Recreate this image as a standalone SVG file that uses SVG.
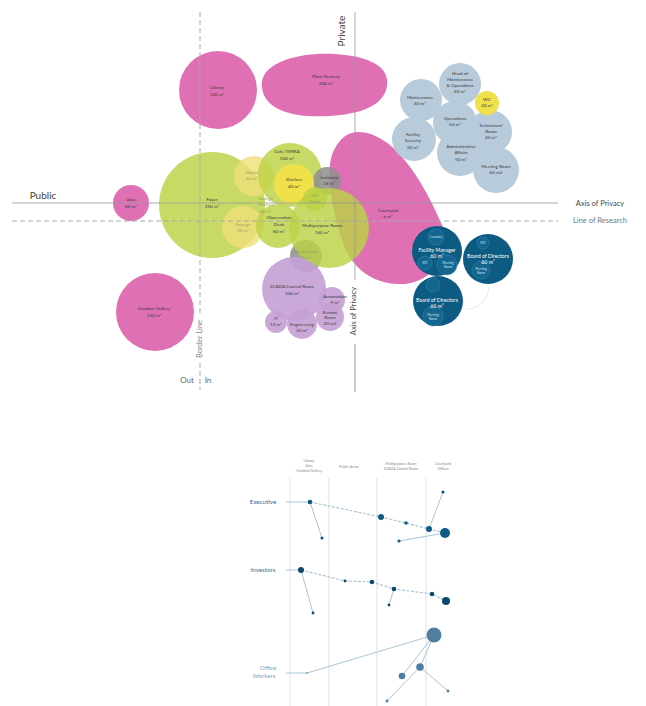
<svg xmlns="http://www.w3.org/2000/svg" width="646" height="706" viewBox="0 0 646 706">
<style>
text{font-family:Lato,"Liberation Sans",sans-serif;text-anchor:middle}
.t{font-size:4.6px;fill:#3a3a3a}
.tf{font-size:4.6px;fill:#8a8f5a;opacity:.75}
.tw{font-size:5.2px;fill:#ffffff}
.tws{font-size:3.2px;fill:#cfe3ee}
.pink{fill:#df70b4}
.green{fill:#bcd244;fill-opacity:.82}
.yellow{fill:#f0e04a}
.yfade{fill:#efe07a;fill-opacity:.8}
.gray{fill:#8e8e8e;fill-opacity:.85}
.purple{fill:#c4a0d5;fill-opacity:.9}
.lblue{fill:#b7cbda}
.dblue{fill:#0d5b83}
.inner{fill:#12668f;stroke:#3b88ad;stroke-width:.5}
.axis{stroke:#9a9a9a;stroke-width:1;fill:none}
.dash{stroke:#a8a8a8;stroke-width:1;stroke-dasharray:5 3;fill:none}
.col{stroke:#e6e6e6;stroke-width:1.2}
.lk{stroke:#a9c6d6;stroke-width:1;fill:none}
.lkd{stroke:#a9c6d6;stroke-width:1.2;stroke-dasharray:3 1.5;fill:none}
.hd{font-size:3.6px;fill:#8a8a8a}
.ex{fill:#0e5a86}
.iv{fill:#0b4a6e}
.ow{fill:#4f7ea1}
</style>
<rect width="646" height="706" fill="#ffffff"/>

<!-- Top chart nodes -->
<g id="courtyard"><path class="pink" d="M358,132 C395,132 425,185 442,225 C452,256 430,286 398,284 C370,283 350,266 342,240 C332,210 324,170 334,150 C340,138 348,132 358,132 Z"/><text class="t" x="388" y="212">Courtyard</text><text class="t" x="388" y="218">x m²</text></g>
<g id="library"><circle class="pink" cx="218" cy="90" r="39"/><text class="t" x="217" y="89">Library</text><text class="t" x="217" y="96">100 m²</text></g>
<g id="plant-nursery"><path class="pink" d="M262,88 C258,62 300,52 335,54 C368,56 390,66 387,86 C384,106 360,114 330,116 C292,118 265,110 262,88 Z"/><text class="t" x="326" y="78">Plant Nursery</text><text class="t" x="326" y="85">200 m²</text></g>
<g id="gate"><circle class="pink" cx="131" cy="203" r="18"/><text class="t" x="131" y="201">Gate</text><text class="t" x="131" y="208">60 m²</text></g>
<g id="outdoor-gallery"><circle class="pink" cx="155" cy="312" r="39"/><text class="t" x="154" y="310">Outdoor Gallery</text><text class="t" x="154" y="317">150 m²</text></g>

<g id="foyer"><circle class="green" cx="212" cy="205" r="53"/><text class="t" x="212" y="201">Foyer</text><text class="t" x="212" y="208">250 m²</text></g>
<g id="masjid"><circle class="yfade" cx="254" cy="176" r="20"/></g>
<g id="storage"><circle class="yfade" cx="243" cy="227" r="21"/></g>
<g id="cafe-terra"><circle class="green" cx="290" cy="175" r="32"/><text class="t" x="287" y="153">Cafe/TERRA</text><text class="t" x="287" y="160">100 m²</text></g>
<g id="janitorial"><circle class="gray" cx="327" cy="181" r="14"/><text class="t" x="329" y="179">Janitorial</text><text class="t" x="329" y="185">18 m²</text></g>
<g id="kitchen"><circle class="yellow" cx="294" cy="184" r="20"/><text class="t" x="294" y="181">Kitchen</text><text class="t" x="294" y="188">40 m²</text></g>
<g id="mechanical"><circle class="gray" cx="306" cy="256" r="16"/></g>
<g id="multipurpose"><circle class="green" cx="329" cy="228" r="40"/><text class="t" x="322" y="227">Multipurpose Room</text><text class="t" x="322" y="234">160 m²</text></g>
<g id="wc-green"><circle class="green" cx="315" cy="199" r="12"/><text class="tf" x="315" y="197">WC</text><text class="tf" x="315" y="203">20 m²</text></g>
<g id="observation-deck"><circle class="green" cx="278" cy="226" r="22"/><text class="t" x="279" y="219">Observation</text><text class="t" x="279" y="226">Deck</text><text class="t" x="279" y="233">60 m²</text></g>
<g id="faded-labels"><text class="tf" x="252" y="174">Masjid</text><text class="tf" x="252" y="180">40 m²</text><text class="tf" x="243" y="226">Storage</text><text class="tf" x="243" y="232">30 m²</text><text class="tf" x="266" y="200">Lounge</text><text class="tf" x="266" y="206">Kitchen</text><text class="tf" x="266" y="213">40 m²</text><text class="tf" x="306" y="253">Mechanical</text><text class="tf" x="306" y="259">40 m²</text></g>

<g id="scada"><circle class="purple" cx="294" cy="289" r="32"/><text class="t" x="292" y="288">SCADA Control Room</text><text class="t" x="292" y="295">100 m²</text></g>
<g id="automation"><circle class="purple" cx="332" cy="300" r="13"/><text class="t" x="335" y="298">Automation</text><text class="t" x="335" y="304">8 m²</text></g>
<g id="remote-room"><circle class="purple" cx="330" cy="317" r="14"/><text class="t" x="330" y="314">Remote</text><text class="t" x="330" y="319">Room</text><text class="t" x="330" y="325">20 m2</text></g>
<g id="it"><circle class="purple" cx="276" cy="322" r="11"/><text class="t" x="276" y="320">IT</text><text class="t" x="276" y="326">12 m²</text></g>
<g id="engineering"><circle class="purple" cx="302" cy="324" r="15"/><text class="t" x="302" y="326">Engineering</text><text class="t" x="302" y="332">20 m²</text></g>

<!-- Light blue cluster -->
<g id="head-maintenance"><circle class="lblue" cx="460" cy="84" r="21"/><text class="t" x="460" y="75">Head of</text><text class="t" x="460" y="81">Maintenance</text><text class="t" x="460" y="87">&amp; Operations</text><text class="t" x="460" y="93">40 m²</text></g>
<g id="maintenance"><circle class="lblue" cx="421" cy="100" r="21"/><text class="t" x="420" y="99">Maintenance</text><text class="t" x="420" y="105">40 m²</text></g>
<g id="operations"><circle class="lblue" cx="455" cy="123" r="22"/><text class="t" x="455" y="120">Operations</text><text class="t" x="455" y="126">50 m²</text></g>
<g id="technicians"><circle class="lblue" cx="490" cy="132" r="22"/><text class="t" x="491" y="127">Technicians'</text><text class="t" x="491" y="133">Room</text><text class="t" x="491" y="139">40 m²</text></g>
<g id="facility-security"><circle class="lblue" cx="414" cy="139" r="22"/><text class="t" x="413" y="136">Facility</text><text class="t" x="413" y="142">Security</text><text class="t" x="413" y="149">50 m²</text></g>
<g id="admin-affairs"><circle class="lblue" cx="460" cy="153" r="23"/><text class="t" x="461" y="148">Administrative</text><text class="t" x="461" y="154">Affairs</text><text class="t" x="461" y="161">50 m²</text></g>
<g id="meeting-room"><circle class="lblue" cx="496" cy="170" r="23"/><text class="t" x="496" y="168">Meeting Room</text><text class="t" x="496" y="174">60 m2</text></g>
<g id="wc-yellow"><circle class="yellow" cx="487" cy="103" r="12"/><text class="t" x="487" y="101">WC</text><text class="t" x="487" y="107">20 m²</text></g>

<!-- Dark blue cluster -->
<path d="M489,287 C488,300 478,309 466,309" stroke="#e8e8e8" stroke-width="1" fill="none"/>
<g id="facility-manager"><circle class="dblue" cx="437" cy="251" r="25"/><circle class="inner" cx="436" cy="237" r="8"/><circle class="inner" cx="425" cy="263" r="7"/><circle class="inner" cx="447" cy="265" r="10"/><text class="tws" x="436" y="238">Lavatory</text><text class="tw" x="437" y="252">Facility Manager</text><text class="tw" x="437" y="258">60 m²</text><text class="tws" x="425" y="264">WC</text><text class="tws" x="448" y="264">Meeting</text><text class="tws" x="448" y="268">Room</text></g>
<g id="board-right"><circle class="dblue" cx="488" cy="259" r="25"/><circle class="inner" cx="483" cy="243" r="6"/><circle class="inner" cx="481" cy="270" r="9"/><text class="tws" x="483" y="244">WC</text><text class="tw" x="488" y="258">Board of Directors</text><text class="tw" x="488" y="264">60 m²</text><text class="tws" x="481" y="270">Meeting</text><text class="tws" x="481" y="274">Room</text></g>
<g id="board-bottom"><circle class="dblue" cx="438" cy="301" r="25"/><circle class="inner" cx="433" cy="285" r="7"/><circle class="inner" cx="433" cy="316" r="10"/><text class="tw" x="437" y="302">Board of Directors</text><text class="tw" x="437" y="308">60 m²</text><text class="tws" x="433" y="316">Meeting</text><text class="tws" x="433" y="320">Room</text></g>

<!-- Axes -->
<g id="axes">
<line class="axis" x1="12" y1="203" x2="558" y2="203" stroke-opacity=".8"/>
<line class="dash" x1="12" y1="221" x2="558" y2="221"/>
<line class="dash" x1="200" y1="12" x2="200" y2="316"/>
<line class="dash" x1="200" y1="363" x2="200" y2="390"/>
<line class="axis" x1="355" y1="12" x2="355" y2="280" stroke-opacity=".8"/>
<line class="axis" x1="355" y1="344" x2="355" y2="392"/>
<text x="43" y="199" style="font-size:10px;fill:#444">Public</text>
<text x="600" y="206" style="font-size:7.5px;fill:#444">Axis of Privacy</text>
<text x="600" y="223" style="font-size:7.5px;fill:#777">Line of Research</text>
<text transform="translate(345,31) rotate(-90)" style="font-size:10px;fill:#444">Private</text>
<text transform="translate(356,311) rotate(-90)" style="font-size:7.5px;fill:#444">Axis of Privacy</text>
<text transform="translate(202,339) rotate(-90)" style="font-size:7.5px;fill:#888">Border Line</text>
<text x="187" y="383" style="font-size:8px;fill:#666">Out</text>
<text x="208" y="383" style="font-size:8px;fill:#666">In</text>
</g>

<!-- Bottom chart -->
<g id="columns">
<line class="col" x1="290" y1="478" x2="290" y2="706"/>
<line class="col" x1="329" y1="478" x2="329" y2="706"/>
<line class="col" x1="377" y1="478" x2="377" y2="706"/>
<line class="col" x1="426" y1="478" x2="426" y2="706"/>
<text class="hd" x="309" y="462">Library</text><text class="hd" x="309" y="467">Gate</text><text class="hd" x="309" y="472">Outdoor Gallery</text>
<text class="hd" x="349" y="468">Public Areas</text>
<text class="hd" x="401" y="465">Multipurpose Room</text><text class="hd" x="401" y="470">SCADA Control Room</text>
<text class="hd" x="443" y="465">Courtyard</text><text class="hd" x="443" y="470">Offices</text>
</g>

<g id="connectors">
<line class="lk" x1="286" y1="502" x2="310" y2="502"/>
<line class="lk" x1="310" y1="502" x2="322" y2="538"/>
<polyline class="lkd" points="310,502 381,517 406,523 429,529 445,533"/>
<line class="lk" x1="429" y1="529" x2="443" y2="492"/>
<line class="lk" x1="399" y1="541" x2="445" y2="533"/>
<line class="lk" x1="286" y1="570" x2="301" y2="570"/>
<line class="lk" x1="301" y1="570" x2="313" y2="613"/>
<polyline class="lkd" points="301,570 345,581 372,582 394,589 432,594 446,601"/>
<line class="lk" x1="394" y1="589" x2="389" y2="605"/>
<polyline class="lk" points="286,673 307,673 434,635"/>
<polyline class="lk" points="434,635 420,667 387,701"/>
<line class="lk" x1="434" y1="635" x2="402" y2="676"/>
<line class="lk" x1="420" y1="667" x2="448" y2="691"/>
</g>

<g id="executive">
<text x="263" y="504" style="font-size:6.2px;fill:#2f6e99">Executive</text>
<circle class="ex" cx="310" cy="502" r="2.3"/><circle class="ex" cx="322" cy="538" r="1.6"/>
<circle class="ex" cx="381" cy="517" r="3"/><circle class="ex" cx="406" cy="523" r="1.8"/>
<circle class="ex" cx="429" cy="529" r="3"/><circle class="ex" cx="445" cy="533" r="5"/>
<circle class="ex" cx="443" cy="492" r="1.6"/><circle class="ex" cx="399" cy="541" r="1.6"/>
</g>
<g id="investors">
<text x="263" y="572" style="font-size:6.2px;fill:#3f6d8e">Investors</text>
<circle class="iv" cx="301" cy="570" r="3"/><circle class="iv" cx="313" cy="613" r="1.4"/>
<circle class="iv" cx="345" cy="581" r="1.4"/><circle class="iv" cx="372" cy="582" r="2.3"/>
<circle class="iv" cx="394" cy="589" r="2.3"/><circle class="iv" cx="389" cy="605" r="1.4"/>
<circle class="iv" cx="432" cy="594" r="2.3"/><circle class="iv" cx="446" cy="601" r="4"/>
</g>
<g id="office-workers">
<text x="268" y="670" style="font-size:6.2px;fill:#7fa1bb">Office</text>
<text x="264" y="678" style="font-size:6.2px;fill:#7fa1bb">Workers</text>
<circle class="ow" cx="307" cy="673" r="0.8"/>
<circle class="ow" cx="434" cy="635" r="7.5"/><circle class="ow" cx="420" cy="667" r="3.8"/>
<circle class="ow" cx="402" cy="676" r="3.3"/><circle class="ow" cx="448" cy="691" r="1.4"/>
<circle class="ow" cx="387" cy="701" r="1.4"/>
</g>
</svg>
